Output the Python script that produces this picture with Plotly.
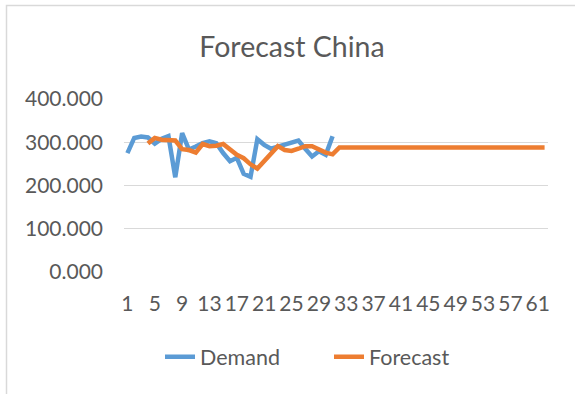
import plotly.graph_objects as go

# Period index (1..62) and weekly series
periods = list(range(1, 63))

demand = [275, 310, 313, 311, 297, 308, 314, 219, 321, 283,
          290, 298, 302, 298, 275, 256, 264, 227, 220, 307,
          294, 285, 290, 295, 300, 304, 285, 267, 279, 271,
          314]

forecast_start = 4
forecast = [297, 310, 306, 306, 304, 284, 282, 276, 296, 291,
            292, 296, 282, 271, 263, 249, 239, 256, 273, 291,
            282, 280, 285, 291, 291, 283, 276, 272] + [288] * 31

tick_periods = list(range(1, 63, 4))
y_ticks = [0, 100, 200, 300, 400]

BLUE = "#5B9BD5"
ORANGE = "#ED7D31"
GREY_TXT = "#595959"
GRID = "#D9D9D9"
FONT = "Lato"

fig = go.Figure()
fig.add_trace(go.Scatter(
    x=periods[:len(demand)], y=demand, name="Demand", mode="lines",
    line=dict(color=BLUE, width=4.5),
))
fig.add_trace(go.Scatter(
    x=periods[forecast_start - 1:forecast_start - 1 + len(forecast)], y=forecast,
    name="Forecast", mode="lines",
    line=dict(color=ORANGE, width=4.5),
))

fig.update_layout(
    width=575, height=394,
    margin=dict(l=124, r=27, t=99, b=122),
    paper_bgcolor="white", plot_bgcolor="white",
    font=dict(family=FONT, color=GREY_TXT, size=21),
    title=dict(text="Forecast China", x=292 / 575, xanchor="center", y=1 - 47 / 394,
               yanchor="middle", font=dict(family=FONT, size=28.5, color=GREY_TXT)),
    showlegend=True,
    legend=dict(orientation="h", x=(160 - 124) / 424, xanchor="left", y=-0.49,
                yanchor="middle",
                font=dict(family=FONT, size=21.5, color=GREY_TXT),
                entrywidth=124, entrywidthmode="pixels", traceorder="normal"),
    xaxis=dict(range=[0.5, 62.5], tickmode="array", tickvals=tick_periods,
               ticktext=[str(t) for t in tick_periods], showgrid=False,
               zeroline=False, showline=False, ticks="", ticklabelstandoff=17),
    yaxis=dict(range=[0, 400], tickmode="array", tickvals=y_ticks, tickformat=".3f",
               showgrid=True, gridcolor=GRID, gridwidth=1.3, zeroline=False,
               showline=False, ticks="", ticklabelstandoff=20),
    shapes=[
        # outer chart frame
        dict(type="rect", xref="paper", yref="paper",
             x0=(6.5 - 124) / 424, x1=(590 - 124) / 424,
             y0=(272 - 410) / 173, y1=(272 - 5.5) / 173,
             line=dict(color=GRID, width=1.5), fillcolor="rgba(0,0,0,0)", layer="below"),
    ],
)

fig.write_html("out.html")
